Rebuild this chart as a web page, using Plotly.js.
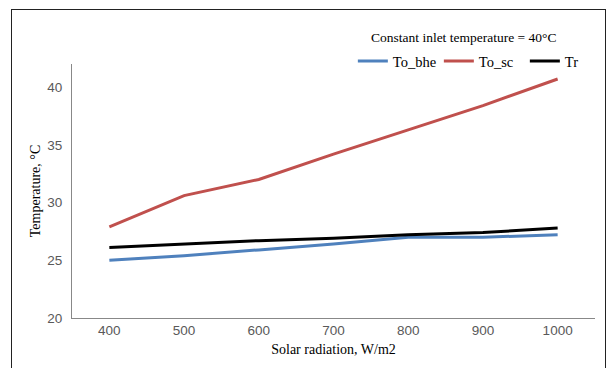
<!DOCTYPE html>
<html>
<head>
<meta charset="utf-8">
<script src="https://cdn.plot.ly/plotly-3.0.1.min.js"></script>
<style>
html,body{margin:0;padding:0;background:#fff;width:614px;height:368px;overflow:hidden;}
#frame{position:absolute;left:11px;top:9px;width:595px;height:400px;border:1px solid #222;box-sizing:border-box;}
#chart{position:absolute;left:0;top:0;width:614px;height:368px;}
</style>
</head>
<body>
<div id="frame"></div>
<div id="chart"></div>
<script>
const categories = ["400","500","600","700","800","900","1000"];
const toBhe = [25.0, 25.4, 25.9, 26.4, 27.0, 27.0, 27.2];
const toSc  = [27.9, 30.6, 32.0, 34.2, 36.3, 38.4, 40.7];
const tr    = [26.1, 26.4, 26.7, 26.9, 27.2, 27.4, 27.8];
const seriesNames = ["To_bhe","To_sc","Tr"];
const yTicks = [20,25,30,35,40];

const font = "Liberation Serif, Times New Roman, serif";
const tickFont = "Liberation Sans, Arial, sans-serif";
const xIdx = categories.map((c,i)=>i);
const traces = [
  {x:xIdx, y:toBhe, name:seriesNames[0], mode:"lines", line:{color:"#4F81BD", width:3}},
  {x:xIdx, y:toSc, name:seriesNames[1], mode:"lines", line:{color:"#C0504D", width:3}},
  {x:xIdx, y:tr, name:seriesNames[2], mode:"lines", line:{color:"#000000", width:3}}
];
const layout = {
  width:614, height:368,
  margin:{l:72, r:19, t:64, b:50, autoexpand:false},
  paper_bgcolor:"rgba(0,0,0,0)", plot_bgcolor:"rgba(0,0,0,0)",
  font:{family:font, size:14, color:"#000"},
  showlegend:true,
  legend:{orientation:"h", x:0.537, y:1.012, xanchor:"left", yanchor:"middle",
    font:{family:font, size:14.5, color:"#000"}, itemwidth:30, entrywidth:41, tracegroupgap:0, bgcolor:"rgba(0,0,0,0)"},
  xaxis:{type:"linear", range:[-0.5,6.5], tickmode:"array", tickvals:xIdx, ticktext:categories,
    showline:true, linecolor:"#888", linewidth:1, showgrid:false, zeroline:false, ticks:"",
    tickfont:{family:tickFont, size:13.5, color:"#595959"},
    title:{text:"Solar radiation, W/m2", font:{family:font, size:14, color:"#000"}, standoff:6}},
  yaxis:{range:[20,42], tickmode:"array", tickvals:yTicks, ticktext:yTicks.map(String),
    showline:true, linecolor:"#888", linewidth:1, showgrid:false, zeroline:false, ticks:"",
    ticklabelstandoff:6,
    tickfont:{family:tickFont, size:13.5, color:"#595959"},
    title:{text:"Temperature, °C", font:{family:font, size:14, color:"#000"}, standoff:3}},
  annotations:[{text:"Constant inlet temperature = 40°C", xref:"paper", yref:"paper",
    x:0.748, y:1.106, xanchor:"center", yanchor:"middle", showarrow:false,
    font:{family:font, size:13.5, color:"#000"}}]
};
Plotly.newPlot("chart", traces, layout, {displayModeBar:false, staticPlot:true});
</script>
</body>
</html>
